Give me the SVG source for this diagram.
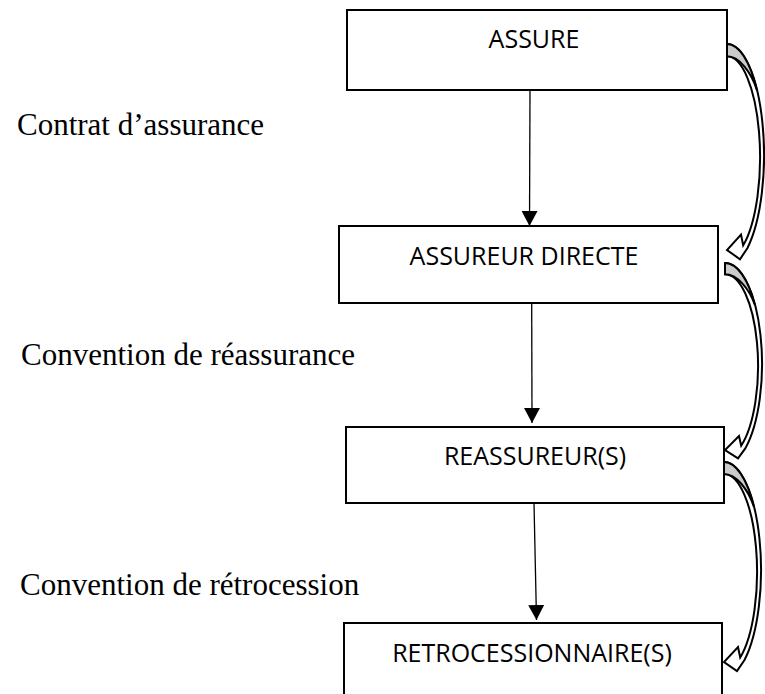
<svg xmlns="http://www.w3.org/2000/svg" xmlns:xlink="http://www.w3.org/1999/xlink" width="765" height="694" viewBox="0 0 765 694">
<style>
.box{fill:#fff;stroke:#000;stroke-width:2}
.bt{font-family:"Open Sans","DejaVu Sans",sans-serif;font-size:25px;fill:#000;text-anchor:middle}
.lbl{font-family:"Liberation Serif","Times New Roman",serif;font-size:31px;fill:#000}
.conn{stroke:#000;stroke-width:1.3;fill:none}
.band{fill:#fff;stroke:#000;stroke-width:2;stroke-linejoin:miter;vector-effect:non-scaling-stroke}
.back{fill:#cbcbcb;stroke:#000;stroke-width:2;vector-effect:non-scaling-stroke}
</style>
<defs>
<marker id="ah" markerUnits="userSpaceOnUse" markerWidth="16" markerHeight="16" viewBox="0 0 16 16" refX="15" refY="8" orient="auto">
<path d="M0,0 L15,8 L0,16 Z" fill="#000"/>
</marker>
<g id="curved">
<path class="band" d="M0,0 A37 108 0 0 1 20.5,198 L13,209 L0,200 L14,185 L16.2,195.5 A33 98 0 0 0 0,12 Z"/>
<path class="back" d="M0,0 A37 108 0 0 1 30,45 C24,27 12,12 0,12 Z"/>
</g>
</defs>
<rect width="765" height="694" fill="#fff"/>
<g id="labels">
<text class="lbl" x="17" y="135">Contrat d’assurance</text>
<text class="lbl" x="21" y="365">Convention de réassurance</text>
<text class="lbl" x="20" y="595">Convention de rétrocession</text>
</g>
<g id="connectors">
<line class="conn" x1="530" y1="90" x2="529.5" y2="226" marker-end="url(#ah)"/>
<line class="conn" x1="531.7" y1="303" x2="532" y2="423" marker-end="url(#ah)"/>
<line class="conn" x1="534" y1="503" x2="536.5" y2="620" marker-end="url(#ah)"/>
<use xlink:href="#curved" transform="translate(727,44) scale(1,1.03)"/>
<use xlink:href="#curved" transform="translate(725,263) scale(1,0.935)"/>
<use xlink:href="#curved" transform="translate(724,462)"/>
</g>
<g id="node-assure">
<rect class="box" x="347" y="10" width="380" height="80"/>
<text class="bt" x="534" y="48">ASSURE</text>
</g>
<g id="node-assureur-directe">
<rect class="box" x="339" y="226" width="379" height="77"/>
<text class="bt" x="524" y="265">ASSUREUR DIRECTE</text>
</g>
<g id="node-reassureurs">
<rect class="box" x="346" y="427" width="378" height="76"/>
<text class="bt" x="535" y="465">REASSUREUR(S)</text>
</g>
<g id="node-retrocessionnaires">
<rect class="box" x="344" y="623" width="378" height="80"/>
<text class="bt" x="532" y="662">RETROCESSIONNAIRE(S)</text>
</g>
</svg>
